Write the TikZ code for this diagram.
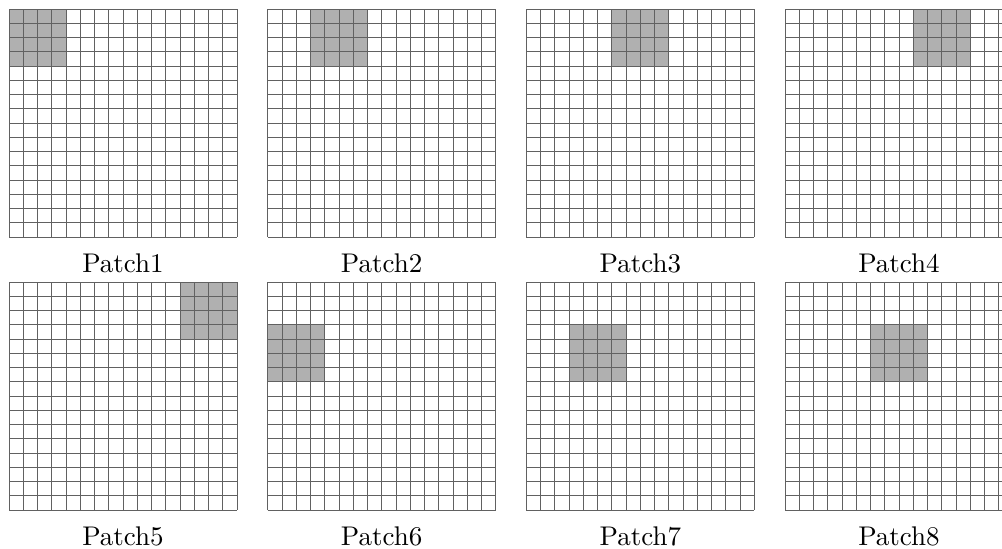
\documentclass[tikz,border=0pt]{standalone}
\usepackage{fontspec}
\newfontfamily\lmten{lmroman10-regular.otf}
\usepackage{tikz}
\tikzset{
  gridline/.style={draw=black!62, line width=0.7pt},
  patchfill/.style={fill=black!31},
  framebox/.style={draw=none, inner sep=0pt, minimum width=228pt, minimum height=228pt, anchor=north west},
  patchlabel/.style={anchor=base, inner sep=0pt, font=\lmten\fontsize{27}{32}\selectfont}
}
\begin{document}
\begin{tikzpicture}[x=1pt,y=-1pt]
\useasboundingbox (0,0) rectangle (1002,549);
\foreach \i/\pc/\pr in {1/0/0,2/3/0,3/6/0,4/9/0,5/12/0,6/0/3,7/3/3,8/6/3}{
  \pgfmathsetmacro{\gc}{int(mod(\i-1,4))}
  \pgfmathsetmacro{\gr}{int((\i-1)/4)}
  \pgfmathsetmacro{\xo}{9+258.67*\gc}
  \pgfmathsetmacro{\yo}{9+273*\gr}
  \begin{scope}[shift={(\xo,\yo)}]
    \fill[patchfill] (\pc*14.25,\pr*14.25) rectangle ++(57,57);
    \foreach \k in {0,...,16}{
      \draw[gridline] (\k*14.25,0) -- (\k*14.25,228);
      \draw[gridline] (0,\k*14.25) -- (228,\k*14.25);
    }
    \node[framebox] (g\i) at (0,0) {};
    \node[patchlabel] (l\i) at (114,263.5) {Patch\i};
  \end{scope}
}
\end{tikzpicture}
\end{document}
